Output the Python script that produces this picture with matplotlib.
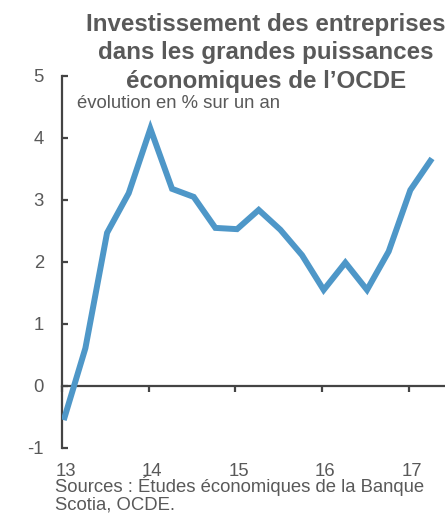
import matplotlib
matplotlib.use("Agg")
import matplotlib.pyplot as plt
from matplotlib.transforms import blended_transform_factory

plt.rcParams['font.family'] = ['Liberation Sans', 'DejaVu Sans']

# Data: quarterly, starting 2013 Q1
start_year = 13
values = [-0.55, 0.61, 2.47, 3.11, 4.15, 3.18, 3.05, 2.55, 2.53,
          2.84, 2.52, 2.11, 1.55, 1.99, 1.55, 2.17, 3.16, 3.67]
x_ticks = [13, 14, 15, 16, 17]
x_labels = ["13", "14", "15", "16", "17"]
y_ticks = [-1, 0, 1, 2, 3, 4, 5]
y_labels = ["-1", "0", "1", "2", "3", "4", "5"]

title = "Investissement des entreprises\ndans les grandes puissances\néconomiques de l\u2019OCDE"
subtitle = "évolution en % sur un an"
source = "Sources : Études économiques de la Banque\nScotia, OCDE."

xs = [start_year + 0.02 + i * 0.25 for i in range(len(values))]

txt = '#595959'
axc = '#444444'
blue = '#4E97C8'
fs = 13.3

fig = plt.figure(figsize=(4.45, 5.14), dpi=100)
ax = fig.add_axes([62/445, 1 - 448/514, (445 - 62)/445, (448 - 76)/514])

ax.plot(xs, values, color=blue, lw=4.3, solid_joinstyle='miter', solid_capstyle='butt', zorder=3)

ax.set_xlim(13, 17.42)
ax.set_ylim(-1, 5)

for s in ['top', 'right']:
    ax.spines[s].set_visible(False)
ax.spines['left'].set_color(axc)
ax.spines['left'].set_linewidth(1.6)
ax.spines['bottom'].set_position(('data', 0))
ax.spines['bottom'].set_color(axc)
ax.spines['bottom'].set_linewidth(1.6)

ax.set_yticks(y_ticks)
ax.set_yticklabels(y_labels)
ax.tick_params(axis='y', direction='in', length=4, width=1.6, color=axc,
               labelsize=fs, labelcolor=txt, pad=13)
ax.set_xticks(x_ticks)
ax.set_xticklabels([])
ax.tick_params(axis='x', direction='out', length=4.5, width=1.6, color=axc)

trans = blended_transform_factory(ax.transData, fig.transFigure)
for xt, lab in zip(x_ticks, x_labels):
    ax.text(xt + 0.04, 1 - 472/514, lab, transform=trans, ha='center', va='center',
            fontsize=fs, color=txt)

fig.text(266/445, 1 - 13/514, title, ha='center', va='top', fontsize=17.4,
         fontweight='bold', color=txt, linespacing=1.3)
fig.text(77/445, 1 - 103/514, subtitle, ha='left', va='center', fontsize=fs, color=txt)
fig.text(55/445, 1 - 476/514, source, ha='left', va='top', fontsize=fs, color=txt,
         linespacing=1.02)

fig.savefig('out.png', dpi=100)
